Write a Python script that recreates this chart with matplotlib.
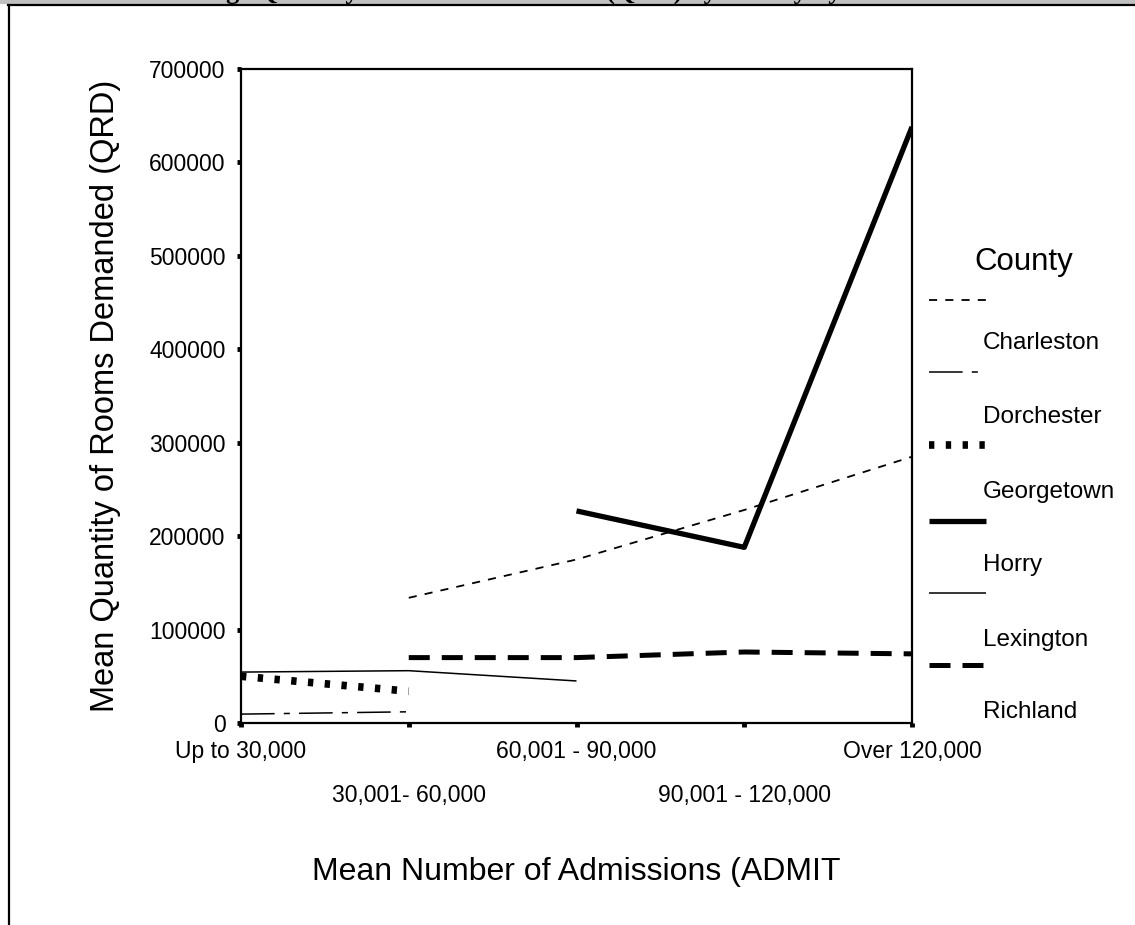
import numpy as np
import matplotlib
matplotlib.use("Agg")
from matplotlib import pyplot as plt
from matplotlib.lines import Line2D
from matplotlib.patches import Rectangle

plt.rcParams['font.family'] = ['Liberation Sans', 'DejaVu Sans']

# categories on the x axis
admit_groups = ['Up to 30,000', '30,001- 60,000', '60,001 - 90,000',
                '90,001 - 120,000', 'Over 120,000']

# mean rooms demanded per county (nan = no hospital in that group)
nan = np.nan
charleston = [nan, 134000, 175000, 228000, 285000]
dorchester = [9500, 12000, nan, nan, nan]
georgetown = [50000, 34000, nan, nan, nan]
horry = [nan, nan, 227000, 188000, 638000]
lexington = [54500, 56000, 45000, nan, nan]
richland = [nan, 70000, 70000, 76000, 74000]

counties = ['Charleston', 'Dorchester', 'Georgetown', 'Horry', 'Lexington', 'Richland']
series = [charleston, dorchester, georgetown, horry, lexington, richland]
yticks = [0, 100000, 200000, 300000, 400000, 500000, 600000, 700000]

# line styles: (linewidth, dash pattern)
styles = [
    dict(lw=1.3, dashes=(4.5, 4.5)),
    dict(lw=1.1, dashes=(22, 6, 4, 6)),
    dict(lw=5.5, dashes=(0.7, 1.5)),
    dict(lw=3.8, dashes=()),
    dict(lw=1.1, dashes=()),
    dict(lw=3.6, dashes=(4.2, 2.4)),
]

W, H = 1135, 925
fig = plt.figure(figsize=(W / 100, H / 100), dpi=100)


def px(x, y):
    return x / W, 1 - y / H


ax = fig.add_axes([241 / W, 1 - 723 / H, (912 - 241) / W, (723 - 69) / H])
x = np.arange(len(admit_groups))
for vals, st in zip(series, styles):
    line, = ax.plot(x, vals, color='black', lw=st['lw'], solid_capstyle='butt',
                    dash_capstyle='butt')
    if st['dashes']:
        line.set_dashes(st['dashes'])

ax.set_xlim(0, 4)
ax.set_ylim(0, 700000)
ax.set_yticks(yticks)
ax.set_yticklabels([str(v) for v in yticks], fontsize=16.5)
ax.set_xticks([0, 2, 4])
ax.set_xticklabels([admit_groups[0], admit_groups[2], admit_groups[4]], fontsize=16.5)
ax.set_xticks([1, 3], minor=True)
ax.set_xticklabels([admit_groups[1], admit_groups[3]], minor=True, fontsize=16.5)
ax.tick_params(which='both', direction='out', length=3, width=3.5)
ax.tick_params(axis='x', which='major', pad=9)
ax.tick_params(axis='x', which='minor', pad=41)
ax.tick_params(axis='y', pad=8)
for s in ax.spines.values():
    s.set_linewidth(1.6)

ax.set_ylabel('Mean Quantity of Rooms Demanded (QRD)', fontsize=23.5, labelpad=20)
fig.text(*px(576, 872), 'Mean Number of Admissions (ADMIT', fontsize=23,
         ha='center', va='center')

# legend: sample line above each label
fig.text(*px(1024, 262), 'County', fontsize=22.5, ha='center', va='center')
sample_y = [300, 372, 445, 521, 593, 665]
label_y = [343, 417, 492, 565, 640, 712]
for name, st, sy, ly in zip(counties, styles, sample_y, label_y):
    ln = Line2D([929 / W, 986 / W], [1 - sy / H, 1 - sy / H], color='black',
                lw=st['lw'], transform=fig.transFigure, solid_capstyle='butt',
                dash_capstyle='butt')
    if st['dashes']:
        ln.set_dashes(st['dashes'])
    fig.add_artist(ln)
    fig.text(*px(983, ly), name, fontsize=17.5, ha='left', va='center')

# page frame and clipped title at the top
fig.add_artist(Rectangle((0, 1 - 4 / H), 1, 4 / H, transform=fig.transFigure,
                         facecolor='#c0c0c0', edgecolor='none', zorder=0))
fig.text(*px(567, -1), 'Average Quantity of Rooms Demanded (QRD) by County by Admissions',
         fontsize=19, fontweight='bold', family='Liberation Serif',
         ha='center', va='baseline')
fig.add_artist(Line2D([8 / W, 1], [1 - 5 / H, 1 - 5 / H], color='black', lw=1.6,
                      transform=fig.transFigure))
fig.add_artist(Line2D([9 / W, 9 / W], [1 - 5 / H, 0], color='black', lw=1.6,
                      transform=fig.transFigure))

fig.savefig('out.png', dpi=100)
